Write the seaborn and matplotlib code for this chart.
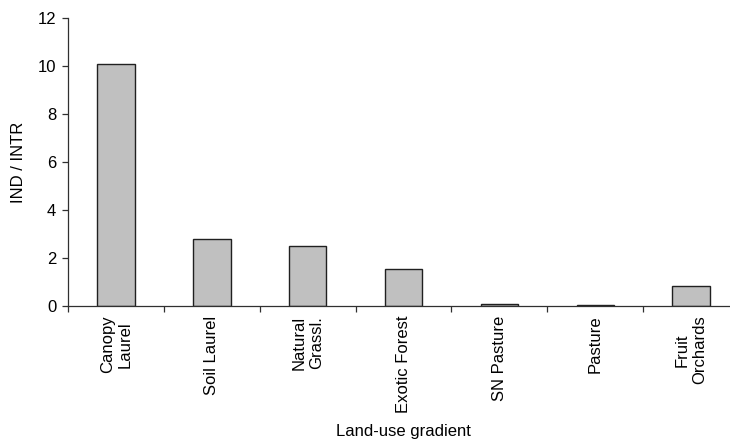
import numpy as np
import pandas as pd
import matplotlib
matplotlib.use('Agg')
import matplotlib.pyplot as plt
import seaborn as sns

# data
land_use = ['Canopy\nLaurel', 'Soil Laurel', 'Natural\nGrassl.', 'Exotic Forest',
            'SN Pasture', 'Pasture', 'Fruit\nOrchards']
ind_intr = [10.09, 2.78, 2.50, 1.53, 0.07, 0.04, 0.83]

def main():
    df = pd.DataFrame({'land_use': land_use, 'ratio': ind_intr})

    sns.set_style('white')
    plt.rcParams['font.family'] = ['Liberation Sans', 'DejaVu Sans']
    plt.rcParams['text.color'] = 'black'
    plt.rcParams['axes.labelcolor'] = 'black'
    plt.rcParams['xtick.color'] = 'black'
    plt.rcParams['ytick.color'] = 'black'

    fig = plt.figure(figsize=(7.3, 4.42), dpi=100)
    # the original picture is cropped on the right, so the axes run past the edge
    ax = fig.add_axes([0.0932, 0.3077, 0.9192, 0.6516])

    sns.barplot(data=df, x='land_use', y='ratio', color='#c0c0c0',
                edgecolor='#202020', linewidth=1.0, width=0.39,
                saturation=1, ax=ax)

    ax.set_ylim(0, 12)
    ax.set_yticks(np.arange(0, 13, 2))
    ax.set_xlim(-0.5, len(land_use) - 0.5)

    # category labels without marks, small marks between the categories
    ax.set_xticks(range(len(land_use)))
    ax.set_xticklabels(land_use, rotation=90, ha='center', va='top',
                       multialignment='center', fontsize=12, linespacing=1.2)
    ax.set_xticks(np.arange(-0.5, len(land_use), 1.0), minor=True)
    ax.tick_params(axis='x', which='major', length=0, pad=7)
    ax.tick_params(axis='x', which='minor', length=4, width=0.9,
                   direction='out', color='#303030', bottom=True)
    ax.tick_params(axis='y', length=4.5, width=0.9, direction='out',
                   color='#303030', labelsize=12, pad=4, left=True)

    for side in ['top', 'right']:
        ax.spines[side].set_visible(False)
    for side in ['left', 'bottom']:
        ax.spines[side].set_color('#303030')
        ax.spines[side].set_linewidth(0.9)

    ax.set_xlabel('Land-use gradient', fontsize=12, labelpad=8)
    ax.set_ylabel('IND / INTR', fontsize=12, labelpad=8)

    fig.savefig('out.png', dpi=100)


if __name__ == "__main__":
    main()
